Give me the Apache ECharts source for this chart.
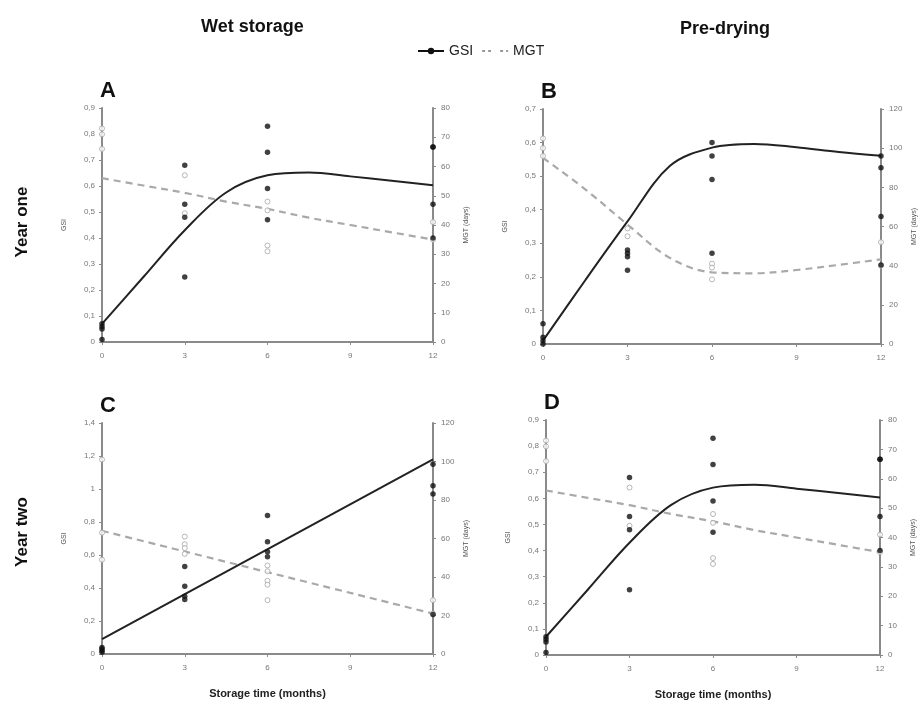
<!DOCTYPE html>
<html>
<head>
<meta charset="utf-8">
<script src="https://cdn.jsdelivr.net/npm/echarts@6/dist/echarts.min.js"></script>
<style>html,body{margin:0;padding:0;background:#fff}#c{width:923px;height:704px}</style>
</head>
<body>
<div id="c"></div>
<script>
// ---------- data ----------
const months = [0, 3, 6, 12];
const fitX = [0, 1.5, 3, 4.5, 6, 7.5, 9, 10.5, 12];
const lineFitX = [0, 12];

// Panel A: Wet storage, year one
const A_gsi = [[0.01, 0.05, 0.06, 0.07], [0.68, 0.53, 0.48, 0.25], [0.83, 0.73, 0.59, 0.47], [0.75, 0.75, 0.53, 0.40]];
const A_mgt = [[73, 71, 66], [57, 44], [48, 45, 33, 31], [41, 35]];
const A_gsiFit = [0.07, 0.25, 0.43, 0.575, 0.641, 0.652, 0.637, 0.62, 0.603];
const A_mgtFit = [56, 53.5, 51, 48, 45.5, 42.5, 40, 37.5, 35];

// Panel B: Pre-drying, year one
const B_gsi = [[0.06, 0.02, 0.01, 0.0], [0.28, 0.27, 0.26, 0.22], [0.60, 0.56, 0.49, 0.27], [0.56, 0.525, 0.38, 0.235]];
const B_mgt = [[105, 100, 96], [59, 55], [41, 39, 33], [52, 40]];
const B_gsiFit = [0.01, 0.19, 0.365, 0.53, 0.585, 0.596, 0.586, 0.572, 0.561];
const B_mgtFit = [95, 79, 61, 44, 36.6, 36.1, 37.8, 40.4, 43.2];

// Panel C: Wet storage, year two
const C_gsi = [[0.04, 0.03, 0.02, 0.01], [0.53, 0.41, 0.35, 0.33], [0.84, 0.68, 0.62, 0.59], [1.15, 1.02, 0.97, 0.24]];
const C_mgt = [[101, 63, 49], [61, 57, 55, 52], [46, 43, 38, 36, 28], [28, 21]];
const C_gsiFit = [0.09, 1.18];
const C_mgtFit = [64, 21];

// Panel D: Pre-drying, year two
const D_gsi = [[0.01, 0.05, 0.06, 0.07], [0.68, 0.53, 0.48, 0.25], [0.83, 0.73, 0.59, 0.47], [0.75, 0.75, 0.53, 0.40]];
const D_mgt = [[73, 71, 66], [57, 44], [48, 45, 33, 31], [41, 35]];
const D_gsiFit = [0.07, 0.25, 0.43, 0.575, 0.641, 0.652, 0.637, 0.62, 0.603];
const D_mgtFit = [56, 53.5, 51, 48, 45.5, 42.5, 40, 37.5, 35];

const xTicks = [0, 3, 6, 9, 12];

// ---------- layout ----------
const FONT = "'Liberation Sans Narrow','Liberation Sans',Arial,sans-serif";
const panels = [
  {letter: 'A', grid: {left: 102, top: 108, width: 331, height: 234}, gsiMax: 0.9, gsiInt: 0.1, mgtMax: 80, mgtInt: 10,
   gsi: A_gsi, mgt: A_mgt, fx: fitX, gfit: A_gsiFit, mfit: A_mgtFit, xname: ''},
  {letter: 'B', grid: {left: 543, top: 109, width: 338, height: 235}, gsiMax: 0.7, gsiInt: 0.1, mgtMax: 120, mgtInt: 20,
   gsi: B_gsi, mgt: B_mgt, fx: fitX, gfit: B_gsiFit, mfit: B_mgtFit, xname: ''},
  {letter: 'C', grid: {left: 102, top: 423, width: 331, height: 231}, gsiMax: 1.4, gsiInt: 0.2, mgtMax: 120, mgtInt: 20,
   gsi: C_gsi, mgt: C_mgt, fx: lineFitX, gfit: C_gsiFit, mfit: C_mgtFit, xname: 'Storage time (months)'},
  {letter: 'D', grid: {left: 546, top: 420, width: 334, height: 235}, gsiMax: 0.9, gsiInt: 0.1, mgtMax: 80, mgtInt: 10,
   gsi: D_gsi, mgt: D_mgt, fx: fitX, gfit: D_gsiFit, mfit: D_mgtFit, xname: 'Storage time (months)'}
];

const axisColor = '#8a8a8a';
const labelColor = '#777';
const fmt = v => { const r = Math.round(v * 10) / 10; return String(r).replace('.', ','); };

const grids = [], xAxes = [], yAxes = [], series = [], titles = [];
panels.forEach((p, i) => {
  grids.push(p.grid);
  xAxes.push({
    type: 'value', gridIndex: i, min: 0, max: 12, interval: 3,
    axisLine: {onZero: false, lineStyle: {color: axisColor, width: 2}},
    axisTick: {show: true, length: 3, lineStyle: {color: axisColor}},
    axisLabel: {color: labelColor, fontSize: 8, fontFamily: FONT, margin: 10,
      customValues: xTicks},
    splitLine: {show: false},
    name: p.xname, nameLocation: 'middle', nameGap: 34,
    nameTextStyle: {fontFamily: FONT, fontSize: 11, fontWeight: 'bold', color: '#222'}
  });
  yAxes.push({
    type: 'value', gridIndex: i, position: 'left', min: 0, max: p.gsiMax, interval: p.gsiInt,
    axisLine: {show: true, lineStyle: {color: axisColor, width: 2}},
    axisTick: {show: true, length: 3, lineStyle: {color: axisColor}},
    axisLabel: {color: labelColor, fontSize: 8, fontFamily: FONT, formatter: fmt, margin: 7},
    splitLine: {show: false},
    name: 'GSI', nameLocation: 'middle', nameRotate: 90, nameGap: 34,
    nameTextStyle: {fontFamily: FONT, fontSize: 7, color: '#555'}
  });
  yAxes.push({
    type: 'value', gridIndex: i, position: 'right', min: 0, max: p.mgtMax, interval: p.mgtInt,
    axisLine: {show: true, lineStyle: {color: axisColor, width: 2}},
    axisTick: {show: true, length: 3, lineStyle: {color: axisColor}},
    axisLabel: {color: labelColor, fontSize: 8, fontFamily: FONT, margin: 8},
    splitLine: {show: false},
    name: 'MGT (days)', nameLocation: 'middle', nameRotate: 90, nameGap: 30,
    nameTextStyle: {fontFamily: FONT, fontSize: 7, color: '#555'}
  });
  const yL = 2 * i, yR = 2 * i + 1;
  const gsiPts = [], mgtPts = [];
  months.forEach((m, k) => {
    p.gsi[k].forEach(v => gsiPts.push([m, v]));
    p.mgt[k].forEach(v => mgtPts.push([m, v]));
  });
  series.push({
    type: 'line', xAxisIndex: i, yAxisIndex: yR, data: p.fx.map((x, k) => [x, p.mfit[k]]),
    smooth: 0.35, showSymbol: false, silent: true, z: 2,
    lineStyle: {color: '#a9a9a9', width: 2.2, type: [7, 5]}
  });
  series.push({
    type: 'scatter', xAxisIndex: i, yAxisIndex: yR, data: mgtPts, symbol: 'circle', symbolSize: 5, z: 3,
    itemStyle: {color: '#fff', borderColor: '#a5a5a5', borderWidth: 1}
  });
  series.push({
    type: 'line', xAxisIndex: i, yAxisIndex: yL, data: p.fx.map((x, k) => [x, p.gfit[k]]),
    smooth: 0.35, showSymbol: false, silent: true, z: 4,
    lineStyle: {color: '#222', width: 2}
  });
  series.push({
    type: 'scatter', xAxisIndex: i, yAxisIndex: yL, data: gsiPts, symbol: 'circle', symbolSize: 5.5, z: 5,
    itemStyle: {color: '#111'}
  });
  titles.push({text: p.letter, left: p.grid.left - 7, top: p.grid.top - 33,
    textStyle: {fontFamily: 'Liberation Sans,Arial,sans-serif', fontSize: 22, fontWeight: 'bold', color: '#111'}});
});

// legend dummy series
series.push({name: 'GSI', type: 'line', xAxisIndex: 0, yAxisIndex: 0, data: [], symbol: 'circle', symbolSize: 6,
  itemStyle: {color: '#111'}, lineStyle: {color: '#111', width: 2}});
series.push({name: 'MGT', type: 'line', xAxisIndex: 0, yAxisIndex: 1, data: [], symbol: 'emptyCircle', symbolSize: 6,
  itemStyle: {color: '#fff', borderColor: '#999', borderWidth: 1}, lineStyle: {color: '#999', width: 1.5, type: [3, 3]}});

titles.push({text: 'Wet storage', left: 196, top: 13,
  textStyle: {fontFamily: FONT, fontSize: 18, fontWeight: 'bold', color: '#111'}});
titles.push({text: 'Pre-drying', left: 675, top: 15,
  textStyle: {fontFamily: FONT, fontSize: 18, fontWeight: 'bold', color: '#111'}});

const chart = echarts.init(document.getElementById('c'));
chart.setOption({
  backgroundColor: '#fff',
  animation: false,
  title: titles,
  legend: {
    data: ['GSI', 'MGT'], left: 412, top: 39, itemWidth: 26, itemHeight: 8, itemGap: 8,
    textStyle: {fontFamily: FONT, fontSize: 14, color: '#222'}, selectedMode: false
  },
  grid: grids,
  xAxis: xAxes,
  yAxis: yAxes,
  series: series,
  graphic: [
    {type: 'text', x: 22, y: 222, rotation: Math.PI / 2,
     style: {text: 'Year one', font: "bold 17px 'Liberation Sans Narrow','Liberation Sans',Arial", fill: '#111', textAlign: 'center', textVerticalAlign: 'middle'}},
    {type: 'text', x: 22, y: 532, rotation: Math.PI / 2,
     style: {text: 'Year two', font: "bold 17px 'Liberation Sans Narrow','Liberation Sans',Arial", fill: '#111', textAlign: 'center', textVerticalAlign: 'middle'}}
  ]
});
</script>
</body>
</html>
